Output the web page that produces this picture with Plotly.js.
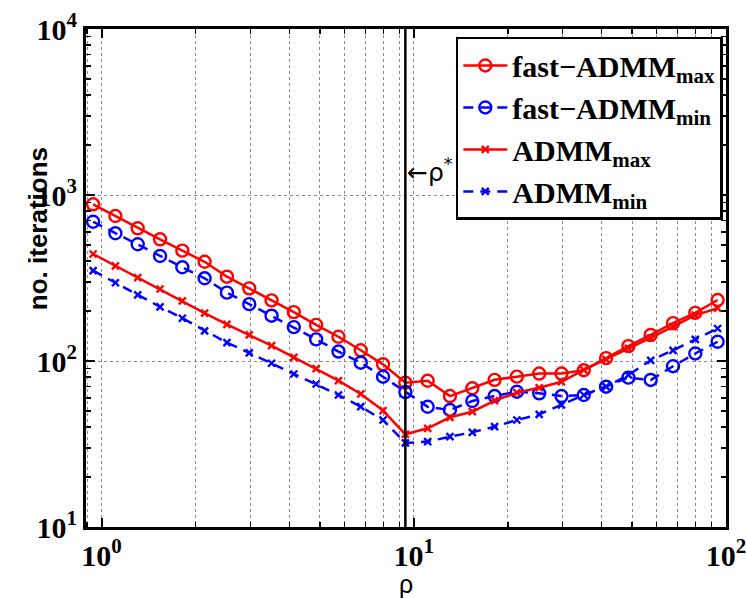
<!DOCTYPE html>
<html>
<head>
<meta charset="utf-8">
<script src="https://cdn.plot.ly/plotly-3.0.1.min.js"></script>
<style>html,body{margin:0;padding:0;background:#fff;}#plot{width:746px;height:598px;}</style>
</head>
<body>
<div id="plot"></div>
<script>
// rho values (logspace around rho*)
var rho = [0.94, 1.108, 1.306, 1.540, 1.815, 2.139, 2.522, 2.973, 3.504, 4.130, 4.869, 5.739, 6.765, 7.974, 9.40,
           11.08, 13.06, 15.40, 18.15, 21.39, 25.22, 29.73, 35.04, 41.30, 48.69, 57.39, 67.65, 79.74, 94.0];
var rhoStar = 9.4;

var fastMax = [879, 747, 630, 541, 462, 396, 322, 274, 232, 197, 165, 140, 116, 95.5, 74,
               76, 61.5, 68.5, 77, 80.5, 84, 84, 88, 104, 123, 143.5, 169, 195, 233];
var fastMin = [690, 588, 505, 429, 367, 315, 258, 220, 187.5, 160, 135, 114, 97.7, 80.4, 65,
               53, 50.7, 57.4, 61.5, 65.3, 63.9, 61.5, 62.4, 70, 79.4, 76.9, 93, 111, 130.6];
var admmMax = [441, 374, 318, 271.5, 230, 194, 166, 143.5, 123.7, 105.2, 89.9, 76.1, 63.3, 50.3, 36.2,
               39.3, 45.8, 49.5, 57.7, 64.4, 69, 75, 88.3, 102.3, 119.3, 138, 161, 189, 208];
var admmMin = [350, 296, 250, 212, 181, 152, 129, 112, 96.9, 83.5, 72.7, 62.4, 53.1, 44.1, 32.1,
               32.7, 35, 37.2, 40.2, 44.1, 47.7, 54.3, 62.4, 70, 82.4, 101, 116, 135, 157];

var seriesNames = ['fast\u2212ADMM<sub>max</sub>', 'fast\u2212ADMM<sub>min</sub>', 'ADMM<sub>max</sub>', 'ADMM<sub>min</sub>'];

var xTickVals = [1, 10, 100];
var xTickText = ['<b>10<sup>0</sup></b>', '<b>10<sup>1</sup></b>', '<b>10<sup>2</sup></b>'];
var yTickVals = [10, 100, 1000, 10000];
var yTickText = ['<b>10<sup>1</sup></b>', '<b>10<sup>2</sup></b>', '<b>10<sup>3</sup></b>', '<b>10<sup>4</sup></b>'];

var RED = '#ff0000', BLUE = '#0000ff';
var LW = 2.5;
var DASH = '10px,7px';

var traces = [
  {x: rho, y: fastMax, name: seriesNames[0], mode: 'lines+markers',
   line: {color: RED, width: LW},
   marker: {symbol: 'circle-open', size: 12, color: RED, line: {width: 2.4, color: RED}}},
  {x: rho, y: fastMin, name: seriesNames[1], mode: 'lines+markers',
   line: {color: BLUE, width: LW, dash: DASH},
   marker: {symbol: 'circle-open', size: 12, color: BLUE, line: {width: 2.4, color: BLUE}}},
  {x: rho, y: admmMax, name: seriesNames[2], mode: 'lines+markers',
   line: {color: RED, width: LW},
   marker: {symbol: 'x-thin-open', size: 7, color: RED, line: {width: 2.4, color: RED}}},
  {x: rho, y: admmMin, name: seriesNames[3], mode: 'lines+markers',
   line: {color: BLUE, width: LW, dash: DASH},
   marker: {symbol: 'x-thin-open', size: 7, color: BLUE, line: {width: 2.4, color: BLUE}}}
];

var tickFont = {family: '"Liberation Serif", "Times New Roman", serif', size: 30, color: '#000', weight: 'bold'};
var gridCol = '#8a8a8a';

var layout = {
  width: 746, height: 598,
  margin: {l: 86, r: 20, t: 29, b: 71},
  paper_bgcolor: '#fff', plot_bgcolor: '#fff',
  showlegend: true,
  xaxis: {
    type: 'log', range: [Math.log10(0.892), 2],
    tickmode: 'array', tickvals: xTickVals, ticktext: xTickText,
    ticklabeloverflow: 'allow',
    ticks: 'inside', ticklen: 9, tickwidth: 2, tickcolor: '#000',
    showline: true, linecolor: '#000', linewidth: 3, mirror: 'ticks',
    showgrid: true, gridcolor: gridCol, griddash: 'dot', gridwidth: 1,
    minor: {dtick: 'D1', ticks: 'inside', ticklen: 5, tickwidth: 1.5, tickcolor: '#000',
            showgrid: true, gridcolor: gridCol, griddash: 'dot', gridwidth: 1},
    tickfont: tickFont, zeroline: false,
    title: {text: '\u03c1', font: {family: '"Liberation Sans", Arial, sans-serif', size: 25, color: '#000'}, standoff: 6}
  },
  yaxis: {
    type: 'log', range: [1, 4],
    tickmode: 'array', tickvals: yTickVals, ticktext: yTickText,
    ticklabeloverflow: 'allow',
    ticks: 'inside', ticklen: 9, tickwidth: 2, tickcolor: '#000',
    showline: true, linecolor: '#000', linewidth: 3, mirror: 'ticks',
    showgrid: true, gridcolor: gridCol, griddash: 'dot', gridwidth: 1,
    minor: {dtick: 'D1', ticks: 'inside', ticklen: 5, tickwidth: 1.5, tickcolor: '#000', showgrid: false},
    tickfont: tickFont, zeroline: false
  },
  legend: {
    x: 0.995, xanchor: 'right', y: 0.984, yanchor: 'top',
    bgcolor: '#fff', bordercolor: '#000', borderwidth: 2.5,
    font: {family: '"Liberation Serif", "Times New Roman", serif', size: 30, color: '#000', weight: 'bold'},
    itemwidth: 44, tracegroupgap: 0
  },
  shapes: [
    {type: 'line', xref: 'x', yref: 'paper', x0: rhoStar, x1: rhoStar, y0: 0, y1: 1,
     line: {color: '#000', width: 2.5}}
  ],
  annotations: [
    {xref: 'x', yref: 'y', x: Math.log10(rhoStar), y: Math.log10(1400), xanchor: 'left', yanchor: 'middle',
     xshift: 0, showarrow: false, text: '\u2190\u03c1<sup>*</sup>',
     font: {family: '"DejaVu Sans", "Liberation Sans", sans-serif', size: 25, color: '#000'}},
    {xref: 'paper', yref: 'paper', x: -0.075, y: 0.598, xanchor: 'center', yanchor: 'middle',
     textangle: -90, showarrow: false, text: '<b>no. iterations</b>',
     font: {family: '"Liberation Sans", Arial, sans-serif', size: 26, color: '#000'}}
  ]
};

Plotly.newPlot('plot', traces, layout, {displayModeBar: false, staticPlot: true});
</script>
</body>
</html>
